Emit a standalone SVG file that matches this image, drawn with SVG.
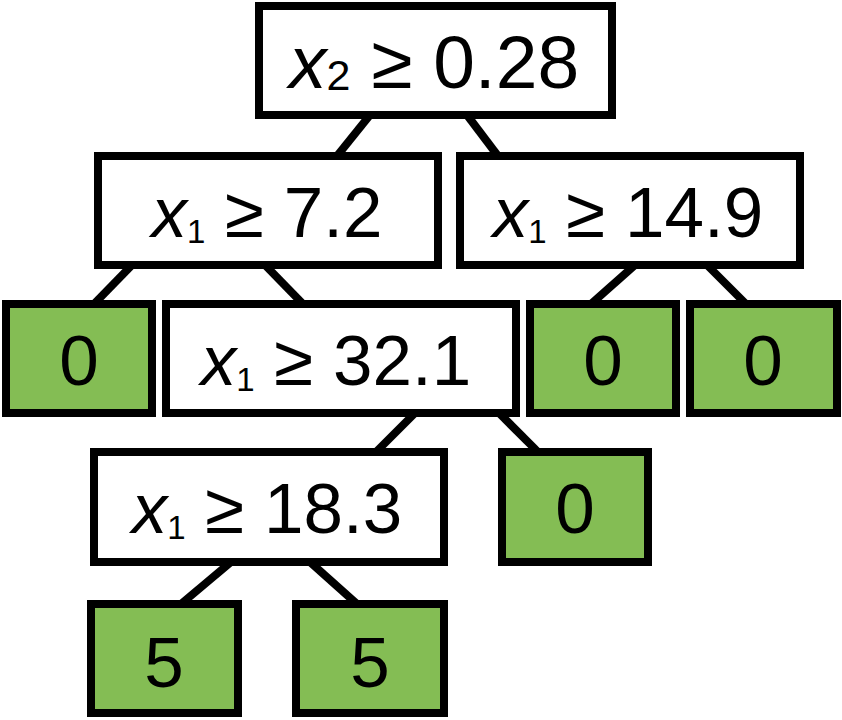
<svg xmlns="http://www.w3.org/2000/svg" width="842" height="720" viewBox="0 0 842 720">
<style>
.box{fill:#ffffff;stroke:#000000;stroke-width:8}
.leaf{fill:#84bd54;stroke:#000000;stroke-width:8}
.edge{stroke:#000000;stroke-width:8;fill:none}
.t{font-family:"Liberation Sans",Arial,sans-serif;font-size:71px;fill:#000000;text-anchor:middle}
.v{font-style:italic}
.s{font-size:33px}
</style>
<rect width="842" height="720" fill="#ffffff"/>
<g id="connectors">
<line class="edge" x1="370" y1="115" x2="337" y2="156"/>
<line class="edge" x1="467" y1="115" x2="498" y2="156"/>
<line class="edge" x1="132" y1="265" x2="94" y2="304"/>
<line class="edge" x1="265" y1="265" x2="303" y2="304"/>
<line class="edge" x1="635" y1="265" x2="591" y2="304"/>
<line class="edge" x1="707" y1="265" x2="746" y2="304"/>
<line class="edge" x1="415" y1="413" x2="376" y2="452"/>
<line class="edge" x1="499" y1="413" x2="538" y2="452"/>
<line class="edge" x1="231" y1="562" x2="181" y2="604"/>
<line class="edge" x1="310" y1="562" x2="357" y2="604"/>
</g>
<g id="n_root">
<rect class="box" x="259" y="6" width="353" height="109"/>
<text class="t" x="434" y="88" style="font-size:75px"><tspan class="v">x</tspan><tspan dy="2" style="font-size:43px">2</tspan><tspan dy="-2"> ≥ 0.28</tspan></text>
</g>
<g id="n_72">
<rect class="box" x="98" y="156" width="340" height="109"/>
<text class="t" x="267" y="237"><tspan class="v">x</tspan><tspan class="s" dy="6">1</tspan><tspan dy="-6"> ≥ 7.2</tspan></text>
</g>
<g id="n_149">
<rect class="box" x="460" y="156" width="340" height="109"/>
<text class="t" x="628" y="237"><tspan class="v">x</tspan><tspan class="s" dy="6">1</tspan><tspan dy="-6"> ≥ 14.9</tspan></text>
</g>
<g id="leaf_a">
<rect class="leaf" x="6" y="304" width="146" height="109"/>
<text class="t" x="79" y="385">0</text>
</g>
<g id="n_321">
<rect class="box" x="166" y="304" width="350" height="109"/>
<text class="t" x="336" y="385"><tspan class="v">x</tspan><tspan class="s" dy="6">1</tspan><tspan dy="-6"> ≥ 32.1</tspan></text>
</g>
<g id="leaf_b">
<rect class="leaf" x="530" y="304" width="146" height="109"/>
<text class="t" x="603" y="385">0</text>
</g>
<g id="leaf_c">
<rect class="leaf" x="690" y="304" width="147" height="109"/>
<text class="t" x="763" y="385">0</text>
</g>
<g id="n_183">
<rect class="box" x="94" y="452" width="350" height="110"/>
<text class="t" x="267" y="533"><tspan class="v">x</tspan><tspan class="s" dy="6">1</tspan><tspan dy="-6"> ≥ 18.3</tspan></text>
</g>
<g id="leaf_d">
<rect class="leaf" x="502" y="452" width="146" height="110"/>
<text class="t" x="575" y="533">0</text>
</g>
<g id="leaf_e">
<rect class="leaf" x="91" y="604" width="147" height="109"/>
<text class="t" x="164" y="687">5</text>
</g>
<g id="leaf_f">
<rect class="leaf" x="296" y="604" width="148" height="109"/>
<text class="t" x="370" y="687">5</text>
</g>
</svg>
